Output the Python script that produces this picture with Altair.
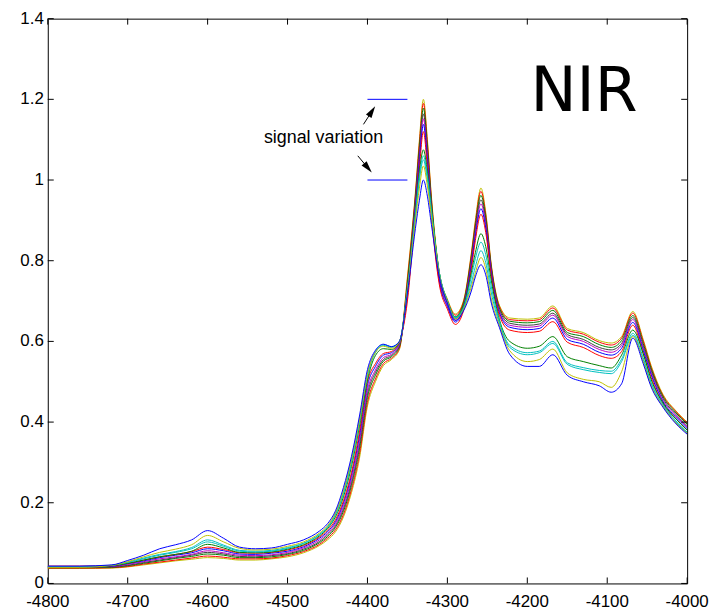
import altair as alt
import pandas as pd

# wavenumber grid (shared by all spectra)
X = [-4800, -4760, -4720, -4700, -4680, -4660, -4640, -4620, -4600, -4580,
     -4560, -4540, -4520, -4500, -4480, -4460, -4450, -4440, -4430, -4420,
     -4410, -4400, -4390, -4380, -4370, -4360, -4350, -4340, -4335, -4330,
     -4325, -4320, -4310, -4300, -4290, -4280, -4270, -4265, -4258, -4252,
     -4245, -4235, -4222, -4200, -4185, -4168, -4150, -4130, -4110, -4095,
     -4082, -4068, -4055, -4045, -4030, -4015, -4000]

# main cluster of spectra
K1 = [.037, .037, .038, .041, .046, .051, .056, .060, .064, .062, .058, .058, .061, .066, .076, .094, .108, .128, .165, .225,
      .310, .440, .500, .540, .555, .580, .760, .970, 1.100, 1.200, 1.100, .960, .770, .705, .668, .700, .820, .900, .980, .920,
      .790, .690, .658, .655, .658, .688, .632, .622, .602, .596, .612, .674, .605, .540, .468, .430, .400]
K2 = [.038, .038, .039, .042, .048, .053, .058, .063, .068, .065, .061, .061, .063, .069, .079, .097, .112, .133, .171, .233,
      .320, .449, .507, .545, .558, .583, .753, .964, 1.092, 1.190, 1.092, .954, .766, .702, .665, .697, .815, .894, .972, .914,
      .786, .687, .654, .651, .654, .683, .628, .618, .598, .591, .608, .670, .601, .536, .465, .428, .398]
K3 = [.039, .039, .040, .044, .050, .056, .062, .067, .073, .070, .064, .064, .066, .072, .082, .101, .116, .139, .179, .243,
      .333, .461, .516, .551, .562, .587, .743, .956, 1.080, 1.178, 1.080, .946, .762, .698, .661, .693, .809, .886, .962, .906,
      .782, .683, .650, .646, .649, .677, .622, .612, .592, .585, .602, .664, .595, .532, .462, .425, .395]
K4 = [.040, .040, .041, .045, .052, .058, .064, .070, .077, .073, .067, .066, .069, .074, .085, .104, .120, .143, .185, .250,
      .343, .470, .523, .555, .565, .590, .733, .948, 1.069, 1.164, 1.069, .938, .757, .694, .656, .689, .802, .878, .951, .898,
      .777, .679, .645, .640, .643, .670, .617, .605, .585, .579, .595, .659, .589, .527, .458, .421, .391]
K5 = [.041, .041, .042, .047, .054, .061, .066, .072, .081, .076, .070, .069, .071, .077, .088, .108, .124, .148, .191, .258,
      .352, .479, .529, .560, .568, .593, .724, .940, 1.058, 1.152, 1.058, .930, .752, .690, .652, .685, .796, .870, .941, .890,
      .772, .675, .640, .635, .638, .665, .612, .600, .580, .573, .590, .654, .584, .522, .454, .418, .388]
K6 = [.042, .042, .043, .049, .056, .064, .070, .076, .086, .081, .073, .072, .075, .080, .091, .112, .128, .153, .199, .268,
      .365, .491, .538, .566, .572, .597, .713, .931, 1.045, 1.138, 1.045, .921, .747, .686, .648, .681, .789, .861, .929, .881,
      .767, .671, .635, .629, .632, .658, .605, .593, .573, .566, .583, .647, .578, .517, .450, .414, .384]
K7 = [.043, .043, .044, .050, .058, .066, .072, .079, .090, .084, .076, .075, .077, .083, .094, .115, .132, .158, .205, .275,
      .375, .500, .545, .570, .575, .600, .700, .920, 1.030, 1.120, 1.030, .910, .740, .680, .642, .675, .780, .850, .915, .870,
      .760, .665, .628, .622, .625, .649, .598, .585, .565, .558, .575, .640, .570, .510, .445, .410, .380]

# outlying spectra (lower peaks)
G = [.041, .041, .044, .050, .058, .066, .072, .080, .097, .088, .077, .076, .078, .085, .096, .118, .136, .165, .215, .290,
     .390, .505, .565, .582, .580, .598, .730, .920, 1.020, 1.075, 1.020, .930, .770, .700, .660, .685, .770, .820, .867, .835,
     .750, .655, .600, .583, .588, .612, .562, .550, .540, .534, .566, .628, .570, .505, .447, .410, .380]
C1 = [.041, .041, .045, .052, .061, .070, .077, .086, .103, .092, .080, .078, .080, .087, .099, .121, .139, .170, .222, .298,
      .398, .515, .572, .590, .585, .600, .730, .915, 1.010, 1.060, 1.010, .925, .770, .700, .660, .683, .760, .805, .846, .815,
      .735, .650, .590, .572, .576, .600, .547, .535, .528, .526, .556, .620, .560, .498, .443, .405, .375]
C2 = [.042, .042, .045, .053, .063, .072, .079, .089, .108, .095, .082, .080, .082, .089, .100, .122, .140, .172, .226, .303,
      .403, .518, .575, .592, .587, .600, .728, .910, 1.000, 1.050, 1.000, .920, .768, .700, .658, .680, .745, .785, .825, .795,
      .720, .645, .585, .567, .572, .595, .543, .530, .523, .520, .550, .615, .555, .495, .440, .403, .373]
YL = [.040, .040, .045, .054, .066, .077, .085, .096, .119, .103, .087, .083, .085, .092, .103, .125, .143, .175, .230, .307,
      .405, .520, .573, .588, .583, .598, .725, .900, .980, 1.035, .985, .910, .765, .698, .655, .678, .735, .770, .808, .780,
      .705, .640, .577, .550, .555, .581, .522, .506, .500, .486, .525, .612, .550, .490, .438, .400, .372]
L = [.043, .043, .046, .057, .070, .086, .096, .108, .131, .112, .090, .086, .088, .097, .108, .130, .148, .180, .238, .315,
     .415, .530, .578, .593, .587, .600, .720, .880, .950, 1.000, .960, .890, .760, .695, .652, .675, .725, .760, .790, .765,
     .695, .635, .568, .538, .538, .567, .516, .500, .490, .474, .495, .608, .545, .487, .436, .398, .370]

NAMES = ["k1", "k2", "k3", "k4", "k5", "k6", "k7", "g", "c1", "c2", "yl", "l"]
SERIES = [K1, K2, K3, K4, K5, K6, K7, G, C1, C2, YL, L]
COLORS = ["#bfbf00", "#ff0000", "#008000", "#404040", "#bf00bf", "#0000ff", "#ff0000",
          "#008000", "#00bfbf", "#00bfbf", "#bfbf00", "#0000ff"]

XT = [-4800, -4700, -4600, -4500, -4400, -4300, -4200, -4100, -4000]
XT_LABELS = ["-4800", "-4700", "-4600", "-4500", "-4400", "-4300", "-4200", "-4100", "-4000"]
YT = [0, 0.2, 0.4, 0.6, 0.8, 1.0, 1.2, 1.4]
YT_LABELS = ["0", "0.2", "0.4", "0.6", "0.8", "1", "1.2", "1.4"]

# annotation values
SEG_X = [-4400, -4350]
SEG_Y = [1.2, 1.0]
ARROW_TAIL_X = [-4405.0, -4412.1]
ARROW_TAIL_Y = [1.138, 1.060]
ARROW_HEAD_X = [-4394.4, -4399.4]
ARROW_HEAD_Y = [1.1705, 1.030]
ARROW_ANGLE = [32.6, 140.0]
NOTE_X, NOTE_Y, NOTE = -4455, 1.105, "signal variation"
TITLE_X, TITLE_Y, TITLE = -4129, 1.171, "NIR"

rows = []
for name, vals in zip(NAMES, SERIES):
    for x, y in zip(X, vals):
        rows.append({"x": x, "y": y, "s": name})
df = pd.DataFrame(rows)

W, H = 643, 568
LF = "Liberation Sans"
xs = alt.Scale(domain=[-4800, -4000], nice=False, zero=False)
ys = alt.Scale(domain=[0, 1.4], nice=False, zero=False)


def xq(field):
    return alt.X(field, type="quantitative", scale=xs, axis=None)


def yq(field):
    return alt.Y(field, type="quantitative", scale=ys, axis=None)


lines = alt.Chart(df).mark_line(strokeWidth=1, clip=True, interpolate="monotone").encode(
    x=xq("x"), y=yq("y"),
    color=alt.Color("s:N", scale=alt.Scale(domain=NAMES, range=COLORS), legend=None),
    detail="s:N",
)

xt_df = pd.DataFrame({"xt": XT, "lab": XT_LABELS})
yt_df = pd.DataFrame({"yt": YT, "lab": YT_LABELS})
tick_style = dict(color="black", strokeWidth=1)
tb = alt.Chart(xt_df).mark_rule(**tick_style).encode(x=xq("xt"), y=alt.value(H), y2=alt.value(H - 6))
tt = alt.Chart(xt_df).mark_rule(**tick_style).encode(x=xq("xt"), y=alt.value(0), y2=alt.value(6))
tl = alt.Chart(yt_df).mark_rule(**tick_style).encode(y=yq("yt"), x=alt.value(0), x2=alt.value(6))
tr = alt.Chart(yt_df).mark_rule(**tick_style).encode(y=yq("yt"), x=alt.value(W), x2=alt.value(W - 6))

xlab = alt.Chart(xt_df).mark_text(font=LF, fontSize=17, align="center", baseline="top",
                                  color="black").encode(x=xq("xt"), y=alt.value(H + 11), text="lab:N")
ylab = alt.Chart(yt_df).mark_text(font=LF, fontSize=17, align="right", baseline="middle",
                                  color="black").encode(y=yq("yt"), x=alt.value(-4), text="lab:N")

seg_df = pd.DataFrame({"x1": [SEG_X[0]] * 2, "x2": [SEG_X[1]] * 2, "y": SEG_Y})
segs = alt.Chart(seg_df).mark_rule(color="#0000ff", strokeWidth=1).encode(
    x=xq("x1"), x2="x2:Q", y=yq("y"))

arr_df = pd.DataFrame({"tx": ARROW_TAIL_X, "ty": ARROW_TAIL_Y, "hx": ARROW_HEAD_X,
                       "hy": ARROW_HEAD_Y, "a": ARROW_ANGLE})
shafts = alt.Chart(arr_df).mark_rule(color="black", strokeWidth=1).encode(
    x=xq("tx"), y=yq("ty"), x2="hx:Q", y2="hy:Q")
heads = alt.Chart(arr_df).mark_point(shape="M0,-1L0.55,1L-0.55,1Z", filled=True, color="black",
                                     opacity=1, size=144, strokeWidth=0).encode(
    x=xq("hx"), y=yq("hy"), angle=alt.Angle("a:Q", scale=None))

note = alt.Chart(pd.DataFrame({"x": [NOTE_X], "y": [NOTE_Y], "t": [NOTE]})).mark_text(
    font=LF, fontSize=18, align="center", baseline="middle", color="black").encode(
    x=xq("x"), y=yq("y"), text="t:N")
title = alt.Chart(pd.DataFrame({"x": [TITLE_X], "y": [TITLE_Y], "t": [TITLE]})).mark_text(
    font="DejaVu Sans", fontSize=62, align="center", baseline="alphabetic", color="black").encode(
    x=xq("x"), y=yq("y"), text="t:N")

chart = alt.layer(lines, tb, tt, tl, tr, xlab, ylab, segs, shafts, heads, note, title).properties(
    width=W, height=H,
    autosize=alt.AutoSizeParams(type="none"),
    padding={"left": 40, "top": 9, "right": 25, "bottom": 28},
    background="white",
).configure_view(stroke="black", strokeWidth=1)

chart.save("out.html", embed_options={"renderer": "svg", "actions": False})
